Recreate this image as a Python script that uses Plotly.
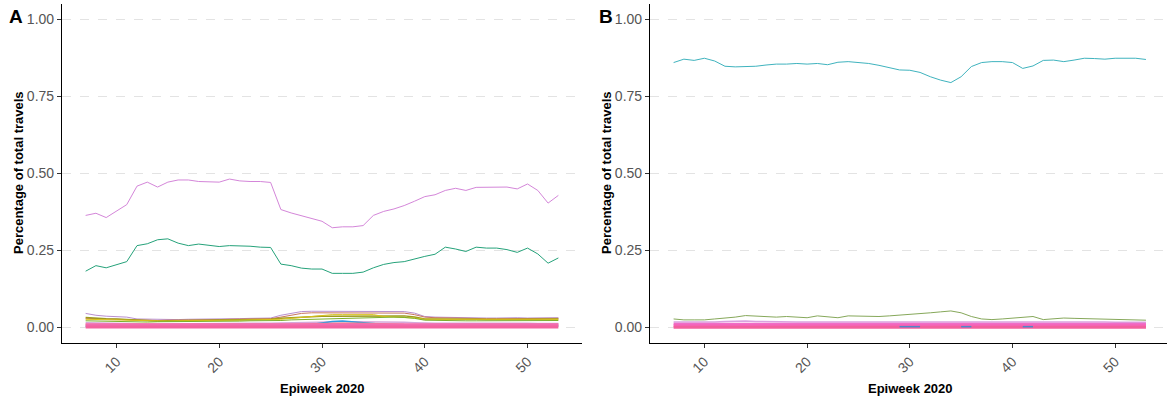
import plotly.graph_objects as go

W, H = 1167, 402
weeks = list(range(7, 54))

# ---------- Panel A data ----------
a_purple = [0.364, 0.371, 0.357, 0.377, 0.399, 0.459, 0.472, 0.456, 0.472, 0.479, 0.479, 0.474,
            0.472, 0.472, 0.482, 0.476, 0.474, 0.474, 0.471, 0.383, 0.372, 0.363, 0.353, 0.345,
            0.324, 0.327, 0.327, 0.331, 0.364, 0.377, 0.385, 0.396, 0.410, 0.425, 0.431, 0.445,
            0.452, 0.445, 0.455, 0.456, 0.456, 0.456, 0.450, 0.466, 0.445, 0.404, 0.429]
a_green = [0.183, 0.201, 0.194, 0.203, 0.214, 0.266, 0.272, 0.285, 0.288, 0.274, 0.266, 0.271,
           0.268, 0.263, 0.266, 0.266, 0.264, 0.261, 0.260, 0.206, 0.201, 0.193, 0.190, 0.190,
           0.176, 0.176, 0.176, 0.180, 0.194, 0.205, 0.211, 0.214, 0.223, 0.231, 0.238, 0.261,
           0.255, 0.247, 0.261, 0.258, 0.258, 0.253, 0.244, 0.258, 0.239, 0.209, 0.226]
a_s1 = [.046, .040, .037, .036, .034,
        .028, .027, .026, .026, .026, .027, .027, .028, .028, .029, .029, .030, .030, .031,
        .040, .046, .052, .053, .053, .053, .053, .053, .053, .052, .052, .053, .052, .047,
        .036, .034, .033, .033, .032, .031, .031, .031, .032, .032, .031, .031, .032, .032]
a_s2 = [.030, .028, .028, .027, .026,
        .024, .023, .023, .024, .024, .025, .025, .026, .026, .027, .027, .028, .028, .029,
        .034, .040, .046, .048, .048, .048, .048, .048, .048, .047, .047, .048, .047, .042,
        .034, .032, .031, .030, .030, .029, .029, .029, .029, .029, .029, .029, .030, .030]
a_s3 = [.033, .030, .029, .028, .026,
        .023, .021, .021, .022, .022, .023, .024, .024, .025, .025, .025, .026, .026, .027,
        .030, .032, .034, .036, .037, .037, .037, .037, .037, .038, .038, .039, .038, .034,
        .028, .028, .028, .029, .028, .027, .026, .026, .027, .027, .027, .028, .028, .028]
a_s4 = [.027, .026, .025, .025, .024,
        .022, .021, .021, .021, .022, .022, .022, .023, .023, .024, .024, .025, .025, .025,
        .027, .030, .033, .036, .041, .042, .042, .042, .042, .042, .036, .034, .034, .031,
        .027, .027, .027, .026, .026, .026, .026, .026, .026, .026, .026, .026, .027, .027]
a_s5 = [.022, .021, .021, .020, .020,
        .018, .018, .019, .019, .019, .020, .020, .020, .021, .021, .021, .022, .022, .022,
        .023, .025, .026, .027, .028, .028, .029, .030, .031, .033, .034, .034, .033, .030,
        .024, .023, .023, .023, .022, .022, .022, .022, .022, .022, .022, .022, .023, .023]
a_s6 = [.016, .015, .015, .015, .014,
        .013, .012, .012, .012, .013, .013, .013, .013, .013, .013, .014, .014, .014, .014,
        .015, .016, .017, .018, .019, .019, .019, .019, .019, .019, .018, .018, .017, .016,
        .014, .014, .014, .014, .015, .016, .016, .016, .015, .015, .014, .013, .013, .013]
a_s7 = [.004, .004, .004, .004, .004,
        .004, .004, .004, .005, .005, .005, .005, .005, .005, .005, .005, .005, .005, .005,
        .006, .007, .008, .010, .015, .020, .021, .018, .015, .012, .009, .008, .007, .006,
        .005, .005, .005, .005, .005, .005, .005, .005, .005, .005, .005, .005, .005, .005]
a_s8 = [.010, .010, .010, .010, .010,
        .009, .009, .009, .009, .009, .009, .009, .009, .009, .009, .009, .009, .009, .009,
        .010, .011, .012, .013, .013, .014, .014, .014, .014, .013, .013, .012, .011, .011,
        .010, .010, .010, .010, .010, .010, .010, .010, .010, .010, .010, .010, .010, .010]
a_pink1 = [0.009] * 47
a_pink2 = [0.002] * 47

# ---------- Panel B data ----------
b_cyan = [0.860, 0.871, 0.867, 0.874, 0.865, 0.848, 0.846, 0.846, 0.848, 0.852, 0.855, 0.855,
          0.857, 0.855, 0.857, 0.853, 0.861, 0.863, 0.861, 0.857, 0.851, 0.844, 0.836, 0.835,
          0.828, 0.814, 0.803, 0.795, 0.814, 0.847, 0.860, 0.863, 0.863, 0.860, 0.841, 0.849,
          0.867, 0.868, 0.863, 0.868, 0.874, 0.873, 0.871, 0.874, 0.874, 0.874, 0.870]
b_green = [0.028, 0.025, 0.025, 0.025, 0.028, 0.030, 0.034, 0.039, 0.037, 0.036, 0.034, 0.036,
           0.035, 0.032, 0.038, 0.035, 0.032, 0.038, 0.037, 0.036, 0.036, 0.038, 0.040, 0.042,
           0.044, 0.048, 0.051, 0.054, 0.048, 0.036, 0.028, 0.026, 0.028, 0.030, 0.032, 0.036,
           0.026, 0.028, 0.031, 0.030, 0.029, 0.027, 0.026, 0.026, 0.025, 0.024, 0.024]
b_lav = [.018, .018, .018, .017, .018,
         .020, .021, .021, .020, .019, .019, .018, .018, .018, .018, .018, .018, .018, .018,
         .018, .018, .018, .018, .018, .019, .019, .020, .020, .019, .018, .018, .018, .018,
         .018, .018, .018, .018, .018, .019, .020, .019, .018, .018, .017, .017, .017, .017]
b_pink1 = [0.012] * 47
b_pink2 = [0.006] * 47
b_pink3 = [0.001] * 47
b_blue = [None] * 22 + [0.003, 0.003, 0.003, None, 0.003, None, 0.003, 0.003] + [None] * 4 + \
         [0.003, 0.003] + [None] * 11

panel_a = [
    ("a_s1", a_s1, "#B98FCF", 1), ("a_s2", a_s2, "#C8765E", 1), ("a_s3", a_s3, "#9E9B1E", 1.5),
    ("a_s4", a_s4, "#D9C21A", 1), ("a_s5", a_s5, "#7BB02A", 1), ("a_s6", a_s6, "#D6A6DA", 1.5),
    ("a_s7", a_s7, "#2F9BE0", 1.5), ("a_s8", a_s8, "#F0897F", 1.5),
    ("a_green", a_green, "#25A27A", 1), ("a_purple", a_purple, "#D486D9", 1),
    ("a_pink1", a_pink1, "#F36BAE", 3), ("a_pink2", a_pink2, "#F2639F", 3),
]
panel_b = [
    ("b_lav", b_lav, "#D9A3E0", 1.5), ("b_green", b_green, "#86A85A", 1),
    ("b_cyan", b_cyan, "#3FB3BE", 1),
    ("b_pink1", b_pink1, "#F06CC8", 2.5), ("b_pink2", b_pink2, "#F564B9", 3),
    ("b_pink3", b_pink3, "#F2609E", 3), ("b_blue", b_blue, "#4E86C8", 1.5),
]

fig = go.Figure()
for name, vals, col, w in panel_a:
    fig.add_trace(go.Scatter(x=weeks, y=vals, mode="lines", name=name,
                             line=dict(color=col, width=w), xaxis="x", yaxis="y",
                             showlegend=False, connectgaps=False))
for name, vals, col, w in panel_b:
    fig.add_trace(go.Scatter(x=weeks, y=vals, mode="lines", name=name,
                             line=dict(color=col, width=w), xaxis="x2", yaxis="y2",
                             showlegend=False, connectgaps=False))

T, B = 4, 59
plot_h = H - T - B


def px_x(p):
    return p / W


def px_y(p):
    return (H - B - p) / plot_h


tickfont = dict(family="Liberation Sans, Arial", size=14, color="#555555")
xcommon = dict(range=[4.7, 55.3], tickvals=[10, 20, 30, 40, 50], tickangle=-45,
               showgrid=False, zeroline=False, showline=True, linecolor="black",
               linewidth=1.2, ticks="outside", ticklen=4, tickcolor="#333333",
               tickfont=tickfont)
ycommon = dict(range=[-0.05, 1.05], tickvals=[0, 0.25, 0.5, 0.75, 1.0],
               ticktext=["0.00", "0.25", "0.50", "0.75", "1.00"],
               showgrid=True, gridcolor="#E3E3E3", griddash="dash", gridwidth=1,
               zeroline=False, showline=True, linecolor="black", linewidth=1.2,
               ticks="outside", ticklen=4, tickcolor="#333333", tickfont=tickfont)

fig.update_layout(
    width=W, height=H,
    margin=dict(l=0, r=0, t=T, b=B),
    paper_bgcolor="white", plot_bgcolor="white",
    xaxis=dict(domain=[px_x(62), px_x(582)], anchor="y", **xcommon),
    yaxis=dict(domain=[0, 1], anchor="x", **ycommon),
    xaxis2=dict(domain=[px_x(650), 1.0], anchor="y2",
                **{**xcommon, "range": [4.7, 55.05]}),
    yaxis2=dict(domain=[0, 1], anchor="x2", **ycommon),
)

title_font = dict(family="Liberation Sans, Arial", size=13, color="black")
annots = [
    dict(text="<b>A</b>", x=px_x(16), y=px_y(16), font=dict(family="Liberation Sans, Arial", size=19, color="black")),
    dict(text="<b>B</b>", x=px_x(606), y=px_y(16), font=dict(family="Liberation Sans, Arial", size=19, color="black")),
    dict(text="<b>Percentage of total travels</b>", x=px_x(18), y=px_y(173), textangle=-90, font=title_font),
    dict(text="<b>Percentage of total travels</b>", x=px_x(606), y=px_y(173), textangle=-90, font=title_font),
    dict(text="<b>Epiweek 2020</b>", x=px_x(322), y=px_y(388), font=title_font),
    dict(text="<b>Epiweek 2020</b>", x=px_x(910), y=px_y(388), font=title_font),
]
for a in annots:
    fig.add_annotation(xref="paper", yref="paper", showarrow=False,
                       xanchor="center", yanchor="middle", **a)

fig.write_html("out.html", config={"displayModeBar": False},
               post_script="document.body.style.margin='0px';document.body.style.overflow='hidden';")
